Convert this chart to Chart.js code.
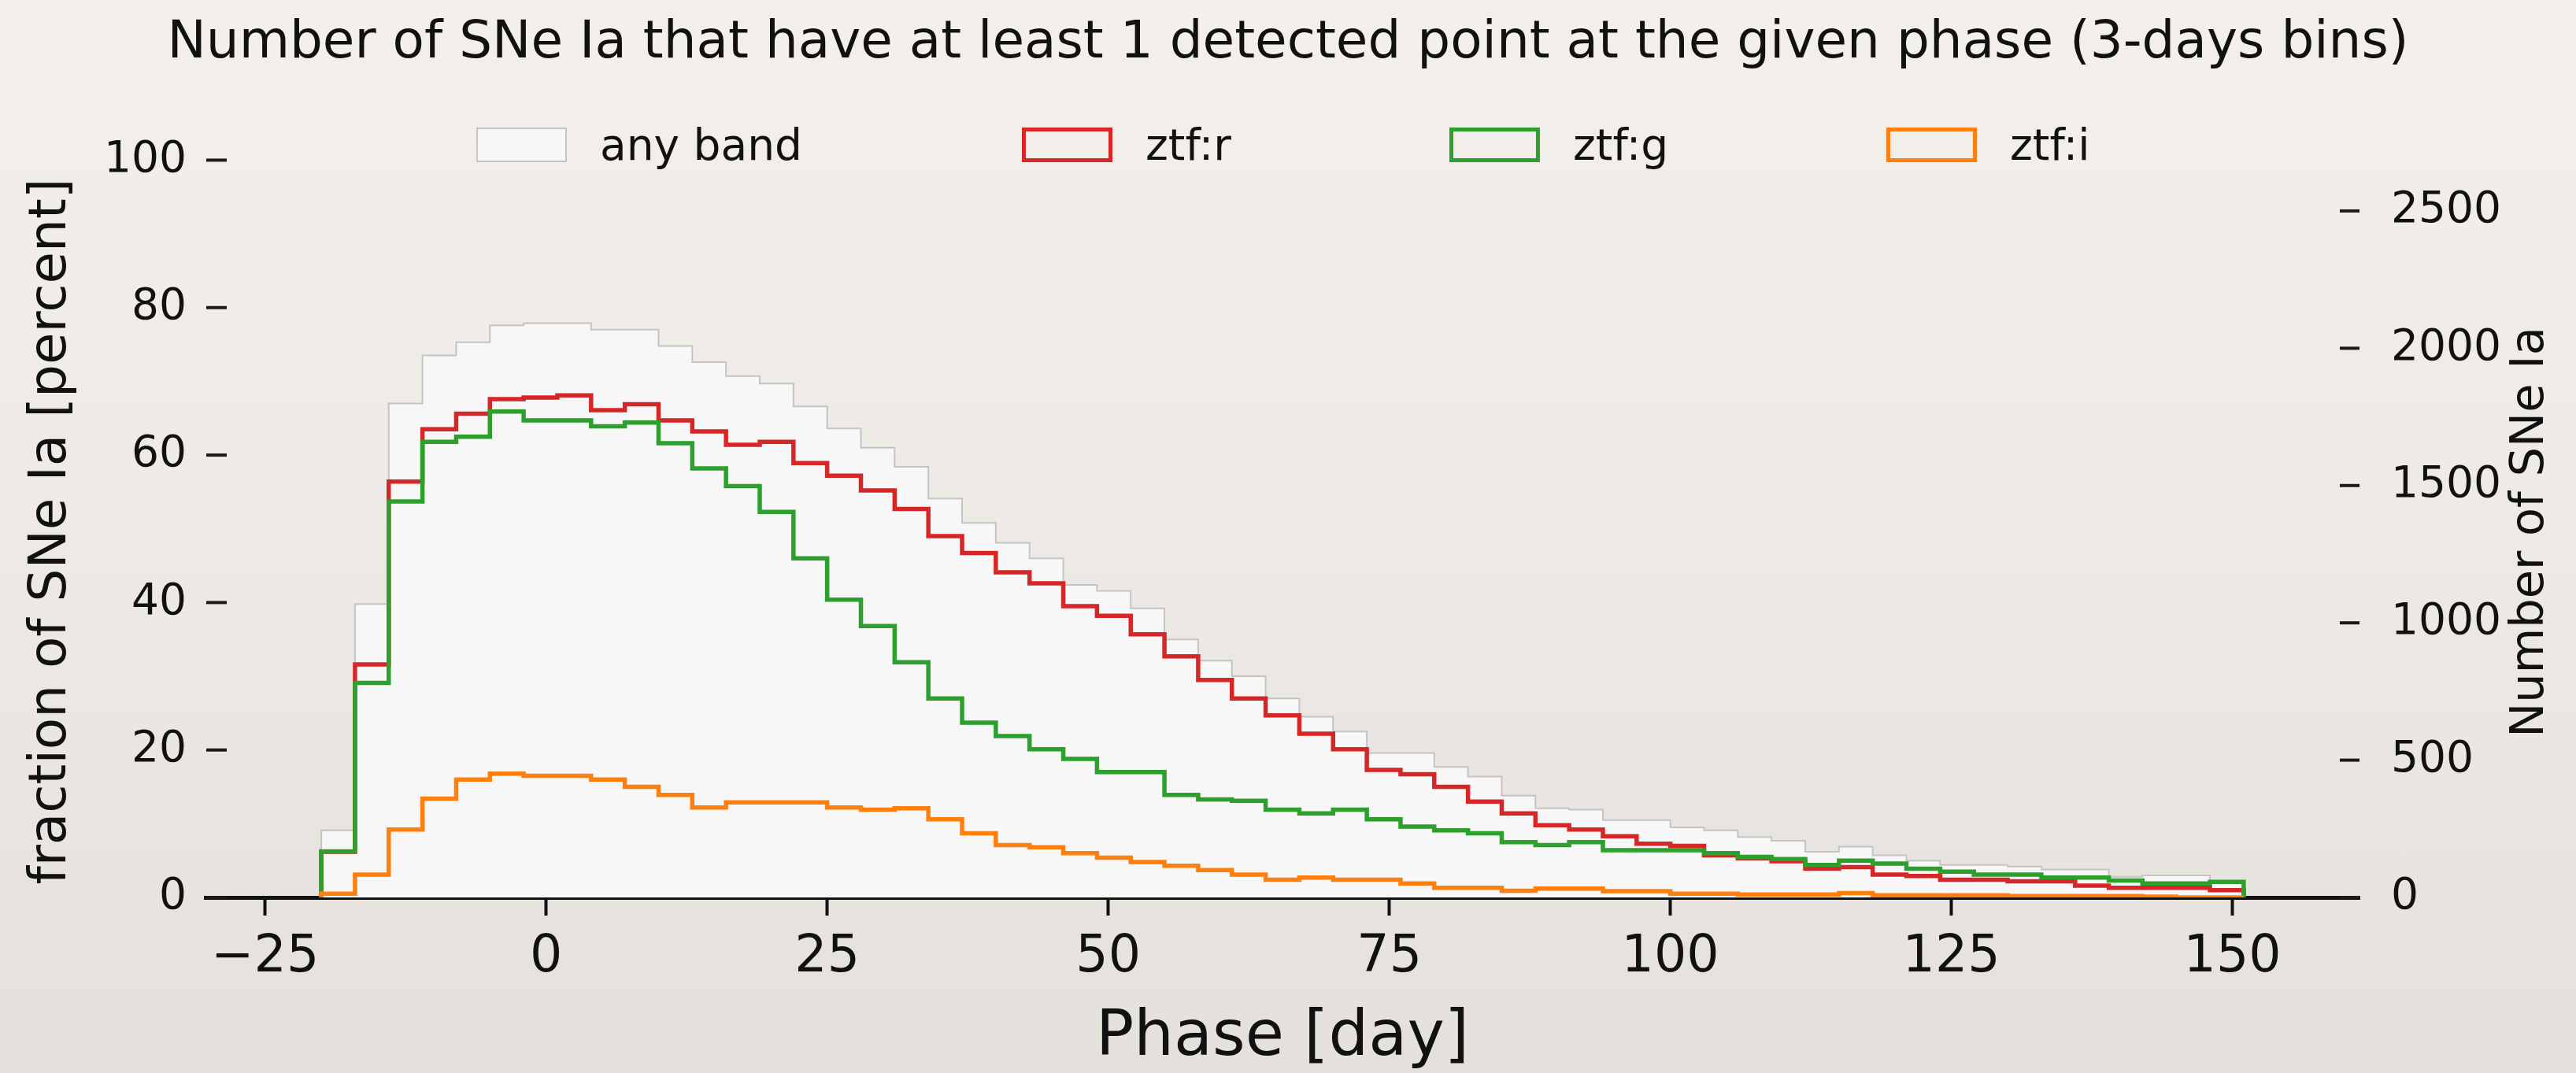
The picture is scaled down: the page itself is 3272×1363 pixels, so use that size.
<!DOCTYPE html>
<html>
<head>
<meta charset="utf-8">
<script src="https://cdn.jsdelivr.net/npm/chart.js@4.4.1/dist/chart.umd.min.js"></script>
<style>
html,body{margin:0;padding:0;}
body{width:3272px;height:1363px;overflow:hidden;
  background:linear-gradient(to bottom,#f3f0eb 0%,#eeebe6 45%,#e4e1dc 100%);
  font-family:"DejaVu Sans",sans-serif;}
#wrap{position:relative;width:3272px;height:1363px;}
#c{position:absolute;left:0;top:0;}
.box{position:absolute;box-sizing:border-box;width:115px;height:44px;top:162px;}
.lab{position:absolute;top:157px;font-size:55px;line-height:55px;color:#111;white-space:nowrap;}
</style>
</head>
<body>
<div id="wrap">
  <canvas id="c" width="3272" height="1363"></canvas>
</div>
<script>
// ---------------- data ----------------
const chartTitle = "Number of SNe Ia that have at least 1 detected point at the given phase (3-days bins)";
const xTitle = "Phase [day]";
const yTitle = "fraction of SNe Ia [percent]";
const y2Title = "Number of SNe Ia";

const binWidth = 3;
const binLeft = [-20,-17,-14,-11,-8,-5,-2,1,4,7,10,13,16,19,22,25,28,31,34,37,40,43,46,49,52,55,58,61,64,67,70,73,76,79,82,85,88,91,94,97,100,103,106,109,112,115,118,121,124,127,130,133,136,139,142,145,148];

const anyBand = [9.1,39.8,67.0,73.5,75.3,77.6,77.9,77.9,77.0,77.0,74.8,72.6,70.7,69.7,66.6,63.6,61.0,58.4,54.1,50.8,48.1,46.0,42.4,41.6,39.2,35.0,32.1,30.0,27.0,24.5,22.5,19.6,19.6,17.7,16.4,13.8,12.1,11.9,10.5,10.5,9.5,9.1,8.2,7.7,6.2,6.9,5.7,5.0,4.4,4.4,4.2,3.8,3.8,2.8,3.0,3.0,2.2];
const ztfR = [6.2,31.6,56.4,63.5,65.6,67.6,67.8,68.1,66.1,66.9,64.7,63.2,61.4,61.8,58.9,57.2,55.2,52.7,49.0,46.7,44.1,42.6,39.5,38.2,35.7,32.7,29.5,27.0,24.7,22.2,20.1,17.3,16.7,15.0,13.0,11.4,9.8,9.2,8.3,7.3,7.0,5.7,5.3,4.9,3.9,4.1,3.1,2.9,2.4,2.4,2.2,2.2,1.6,1.3,1.3,1.3,1.0];
const ztfG = [6.25,29.1,53.7,61.8,62.5,65.9,64.7,64.7,63.9,64.4,61.6,58.2,55.8,52.3,46.0,40.4,36.8,31.9,27.0,23.7,21.9,20.1,18.8,17.0,17.0,13.9,13.3,13.1,11.9,11.4,11.9,10.6,9.6,9.1,8.7,7.5,7.1,7.5,6.4,6.4,6.4,6.0,5.5,5.2,4.4,5.0,4.6,3.9,3.5,3.1,3.1,2.7,2.7,2.3,1.9,1.9,2.1];
const ztfI = [0.5,3.1,9.2,13.4,16.0,16.8,16.5,16.5,16.0,15.0,13.9,12.2,12.9,12.9,12.9,12.2,11.9,12.1,10.6,8.7,7.1,6.8,6.0,5.4,4.8,4.3,3.7,3.1,2.4,2.7,2.4,2.4,1.9,1.3,1.3,0.9,1.2,1.2,0.85,0.85,0.5,0.5,0.4,0.4,0.4,0.6,0.3,0.3,0.3,0.3,0.2,0.2,0.2,0.2,0.1,0,0];

const seriesLabels = ["any band","ztf:r","ztf:g","ztf:i"];
const totalSNe = 2685;            // 100 % on the left axis
const xTicks = [-25,0,25,50,75,100,125,150];
const yTicks = [0,20,40,60,80,100];
const y2Ticks = [0,500,1000,1500,2000,2500];
const xRange = [-30.3, 161.3];
const yRange = [0, 105];

// ---------------- rendering ----------------
const colors = {any:'#c4c4c4', anyFill:'#f7f7f7', r:'#d62728', g:'#2ca02c', i:'#ff7f0e'};
const FONT = '"DejaVu Sans", sans-serif';
Chart.defaults.font.family = FONT;
Chart.defaults.color = '#111';

function stepPoints(vals){
  const pts = [{x: binLeft[0], y: 0}];
  vals.forEach((v, k) => pts.push({x: binLeft[k], y: v}));
  pts.push({x: binLeft[binLeft.length-1] + binWidth, y: 0});
  return pts;
}

const axisDecor = {
  id: 'axisDecor',
  afterDraw(chart){
    const {ctx, chartArea: ca, scales} = chart;
    ctx.save();
    ctx.strokeStyle = '#1a1a1a';
    ctx.lineWidth = 4;
    scales.y.ticks.forEach(t => {
      const p = scales.y.getPixelForValue(t.value);
      ctx.beginPath(); ctx.moveTo(ca.left + 1, p); ctx.lineTo(ca.left + 27, p); ctx.stroke();
    });
    scales.y2.ticks.forEach(t => {
      const p = scales.y2.getPixelForValue(t.value);
      ctx.beginPath(); ctx.moveTo(ca.right - 25, p); ctx.lineTo(ca.right, p); ctx.stroke();
    });
    ctx.fillStyle = '#111';
    ctx.textAlign = 'center';
    ctx.textBaseline = 'middle';
    ctx.font = '66px ' + FONT;
    ctx.save(); ctx.translate(66, 675); ctx.rotate(-Math.PI/2); ctx.fillText(yTitle, 0, 0); ctx.restore();
    ctx.font = '59px ' + FONT;
    ctx.save(); ctx.translate(3215, 676); ctx.rotate(-Math.PI/2); ctx.fillText(y2Title, 0, 0); ctx.restore();
    ctx.restore();
  }
};

new Chart(document.getElementById('c'), {
  type: 'line',
  data: {
    datasets: [
      {label: seriesLabels[0], data: stepPoints(anyBand), stepped: true, borderColor: colors.any, borderWidth: 2,
       backgroundColor: colors.anyFill, fill: 'origin', pointRadius: 0, order: 4},
      {label: seriesLabels[1], data: stepPoints(ztfR), stepped: true, borderColor: colors.r, borderWidth: 5.5,
       fill: false, pointRadius: 0, order: 3},
      {label: seriesLabels[2], data: stepPoints(ztfG), stepped: true, borderColor: colors.g, borderWidth: 5.5,
       fill: false, pointRadius: 0, order: 2},
      {label: seriesLabels[3], data: stepPoints(ztfI), stepped: true, borderColor: colors.i, borderWidth: 5.5,
       fill: false, pointRadius: 0, order: 1}
    ]
  },
  options: {
    responsive: false,
    animation: false,
    devicePixelRatio: 1,
    layout: {padding: 0},
    plugins: {
      legend: {display: false},
      tooltip: {enabled: false},
      title: {display: true, text: chartTitle, color: '#111',
              font: {size: 66, weight: 'normal', family: FONT, lineHeight: 1.2},
              padding: {top: 16, bottom: 61.4}}
    },
    scales: {
      x: {
        type: 'linear', position: 'bottom', min: xRange[0], max: xRange[1],
        afterBuildTicks: s => { s.ticks = xTicks.map(v => ({value: v})); },
        afterFit: s => { s.height = 223; },
        ticks: {font: {size: 65}, color: '#111', padding: 15, maxRotation: 0, autoSkip: false,
                callback: v => (v < 0 ? '\u2212' + Math.abs(v) : String(v))},
        grid: {display: true, drawOnChartArea: false, drawTicks: true, tickLength: 23, tickWidth: 4, tickColor: '#111'},
        border: {display: true, color: '#111', width: 5},
        title: {display: true, text: xTitle, font: {size: 80, lineHeight: 1}, color: '#111', padding: {top: 0, bottom: 4}}
      },
      y: {
        type: 'linear', position: 'left', min: yRange[0], max: yRange[1],
        afterBuildTicks: s => { s.ticks = yTicks.map(v => ({value: v})); },
        afterFit: s => { s.width = 261; },
        ticks: {font: {size: 55}, color: '#111', padding: 24, callback: v => String(v)},
        grid: {display: false, drawTicks: false},
        border: {display: false}
      },
      y2: {
        type: 'linear', position: 'right', min: yRange[0] * totalSNe / 100, max: yRange[1] * totalSNe / 100,
        afterBuildTicks: s => { s.ticks = y2Ticks.map(v => ({value: v})); },
        afterFit: s => { s.width = 275; },
        ticks: {font: {size: 55}, color: '#111', padding: 40, callback: v => String(v)},
        grid: {display: false, drawTicks: false},
        border: {display: false}
      }
    }
  },
  plugins: [axisDecor]
});

// legend (HTML, built from the dataset labels / colours)
const wrap = document.getElementById('wrap');
const legendBoxLeft = [605, 1298, 1841, 2396];
const legendStyles = [
  {background: colors.anyFill, border: '2px solid ' + colors.any},
  {background: 'transparent', border: '5px solid ' + colors.r},
  {background: 'transparent', border: '5px solid ' + colors.g},
  {background: 'transparent', border: '5px solid ' + colors.i}
];
seriesLabels.forEach((lab, k) => {
  const b = document.createElement('div');
  b.className = 'box';
  b.style.left = legendBoxLeft[k] + 'px';
  b.style.background = legendStyles[k].background;
  b.style.border = legendStyles[k].border;
  wrap.appendChild(b);
  const t = document.createElement('div');
  t.className = 'lab';
  t.style.left = (legendBoxLeft[k] + 157) + 'px';
  t.textContent = lab;
  wrap.appendChild(t);
});
</script>
</body>
</html>
